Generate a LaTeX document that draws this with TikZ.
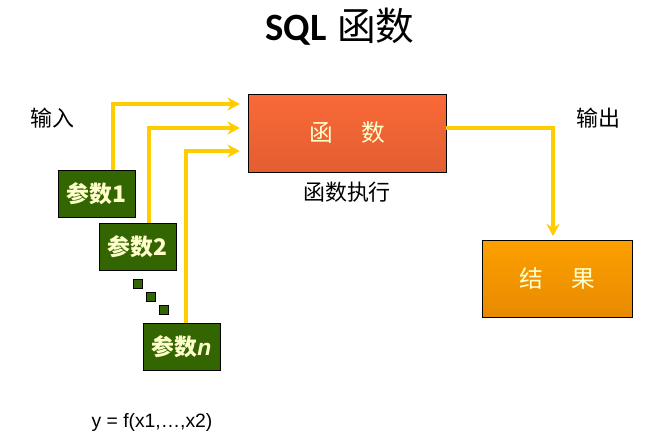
\documentclass[tikz,border=0pt]{standalone}
\usepackage{fontspec}
\setmainfont{Liberation Sans}
\newfontfamily\cjk{Noto Sans CJK SC}
\newfontfamily\titlefont{Carlito}
\usetikzlibrary{arrows.meta}
\definecolor{giallo}{HTML}{FFCC00}
\definecolor{verde}{HTML}{336600}
\definecolor{crema}{HTML}{FFFFCC}
\definecolor{rosso1}{HTML}{FA6937}
\definecolor{rosso2}{HTML}{E35E32}
\definecolor{arancio1}{HTML}{FCA000}
\definecolor{arancio2}{HTML}{E88A00}

\begin{document}
\begin{tikzpicture}[>=Stealth, x=0.02cm, y=-0.02cm,
  flow/.style={giallo, line width=2.8pt, -{Stealth[length=7pt,width=7.5pt]}},
  param/.style={draw=black, fill=verde, minimum width=1.54cm, minimum height=0.94cm,
    inner sep=0pt, text=crema, font=\cjk\bfseries\fontsize{13}{15}\selectfont},
  dot/.style={draw=black, fill=verde, minimum size=0.18cm, inner sep=0pt},
  etichetta/.style={font=\cjk\fontsize{12.5}{15}\selectfont}]
  \useasboundingbox (0,0) rectangle (658,440);

  % Titolo
  \node (titolo) at (340,27) {\fontsize{22}{26}\selectfont{\titlefont\bfseries SQL} {\cjk 函数}};

  % Funzione e risultato
  \node[draw=black, top color=rosso1, bottom color=rosso2, minimum width=3.96cm,
    minimum height=1.56cm, text=crema, font=\cjk\fontsize{13.5}{16}\selectfont]
    (func) at (347,133) {函\hspace{1.2em}数};
  \node[etichetta, below=2pt] (exec) at (func.south) {函数执行};
  \node[draw=black, top color=arancio1, bottom color=arancio2, minimum width=3cm,
    minimum height=1.54cm, text=crema, font=\cjk\fontsize{13.5}{16}\selectfont]
    (res) at (557,278.5) {结\hspace{1.2em}果};

  % Parametri
  \node[param] (p1) at (96.5,193.5) {参数1};
  \node[param] (p2) at (137.5,247) {参数2};
  \node[param] (pn) at (181.5,347) {参数{\rmfamily\bfseries\itshape n}};
  \node[dot] (d1) at (137.5,283.5) {};
  \node[dot] (d2) at (150.5,296.5) {};
  \node[dot] (d3) at (163.5,309.5) {};

  % Etichette
  \node[etichetta] (in) at (52,118) {输入};
  \node[etichetta] (out) at (598,118) {输出};
  \node[font=\fontsize{11}{13}\selectfont] (formula) at (152,422) {y = f(x1,\ldots,x2)};

  % Frecce di ingresso
  \coordinate (c1) at (113,104);
  \coordinate (c2) at (149,128);
  \coordinate (c3) at (186,151);
  \draw[flow, shorten >=4.5pt] (p1.north -| c1) -- (c1) -- (func.west |- c1);
  \draw[flow, shorten >=4.5pt] (p2.north -| c2) -- (c2) -- (func.west |- c2);
  \draw[flow, shorten >=4.5pt] (pn.north -| c3) -- (c3) -- (func.west |- c3);

  % Freccia di uscita
  \coordinate (o1) at (553,128);
  \draw[flow, shorten >=2pt] (func.east |- o1) -- (o1) -- (res.north -| o1);
\end{tikzpicture}
\end{document}
